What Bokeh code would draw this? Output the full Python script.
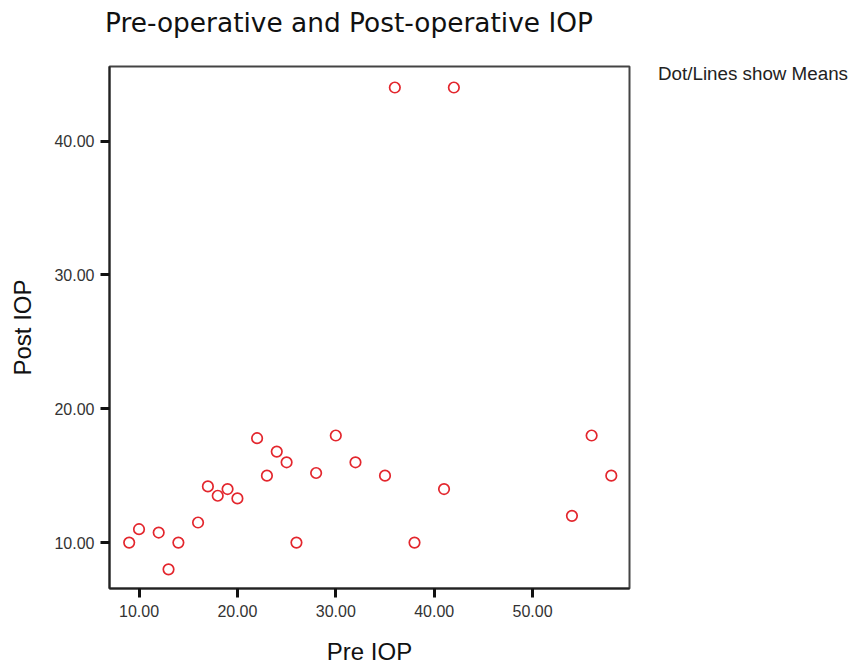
from bokeh.plotting import figure
from bokeh.models import Range1d, ColumnDataSource, PrintfTickFormatter, FixedTicker, Div
from bokeh.layouts import row, column
from bokeh.embed import file_html
from bokeh.resources import INLINE

title_text = "Pre-operative and Post-operative IOP"
note_text = "Dot/Lines show Means"
x_label = "Pre IOP"
y_label = "Post IOP"

pre_iop = [9, 10, 12, 13, 14, 16, 17, 18, 19, 20, 22, 23, 24, 25, 26, 28, 30, 32, 35, 36, 38, 41, 42, 54, 56, 58]
post_iop = [10, 11, 10.75, 8, 10, 11.5, 14.2, 13.5, 14, 13.3, 17.8, 15, 16.8, 16, 10, 15.2, 18, 16, 15, 44, 10, 14, 44, 12, 18, 15]

x_ticks = [10, 20, 30, 40, 50]
y_ticks = [10, 20, 30, 40]

src = ColumnDataSource(dict(x=pre_iop, y=post_iop))

p = figure(width=640, height=627, output_backend="svg", toolbar_location=None,
           x_range=Range1d(7.0, 59.85), y_range=Range1d(6.57, 45.57),
           min_border_left=109, min_border_right=11, min_border_top=26, min_border_bottom=79)
p.background_fill_color = "white"
p.border_fill_color = "white"
p.outline_line_color = "#444444"
p.outline_line_width = 2
p.grid.visible = False
p.title.text = ""

p.scatter("x", "y", source=src, marker="circle", size=10.5, fill_color=None,
          line_color="#e3262d", line_width=1.7)

for ax in (p.xaxis[0], p.yaxis[0]):
    ax.axis_line_color = "#222222"
    ax.axis_line_width = 2
    ax.major_tick_line_color = "#111111"
    ax.major_tick_line_width = 3
    ax.major_tick_out = 9
    ax.major_tick_in = 0
    ax.minor_tick_line_color = None
    ax.formatter = PrintfTickFormatter(format="%.2f")
    ax.major_label_text_font = "Liberation Sans"
    ax.major_label_text_font_size = "16px"
    ax.major_label_text_color = "#333333"
    ax.axis_label_text_font = "Liberation Sans"
    ax.axis_label_text_font_size = "24px"
    ax.axis_label_text_font_style = "normal"
    ax.axis_label_text_color = "#111111"

p.xaxis[0].ticker = FixedTicker(ticks=x_ticks)
p.yaxis[0].ticker = FixedTicker(ticks=y_ticks)
p.xaxis[0].axis_label = x_label
p.yaxis[0].axis_label = y_label
p.xaxis[0].major_label_standoff = 7
p.yaxis[0].major_label_standoff = 6
p.xaxis[0].axis_label_standoff = 18
p.yaxis[0].axis_label_standoff = 15

title = Div(text=title_text, width=854, height=40, margin=(0, 0, 0, 0),
            styles={"font-family": "DejaVu Sans", "font-size": "26.4px", "color": "#111111",
                    "padding-top": "8px", "padding-left": "105px", "line-height": "30px",
                    "white-space": "nowrap", "background": "white"})

note = Div(text=note_text, width=214, height=627, margin=(0, 0, 0, 0),
           styles={"font-family": "Liberation Sans", "font-size": "18.8px", "color": "#222222",
                   "padding-top": "23px", "padding-left": "18px", "line-height": "21px",
                   "white-space": "nowrap", "background": "white"})

layout = column(title, row(p, note, spacing=0), spacing=0)

open("out.html", "w").write(file_html(layout, INLINE))
